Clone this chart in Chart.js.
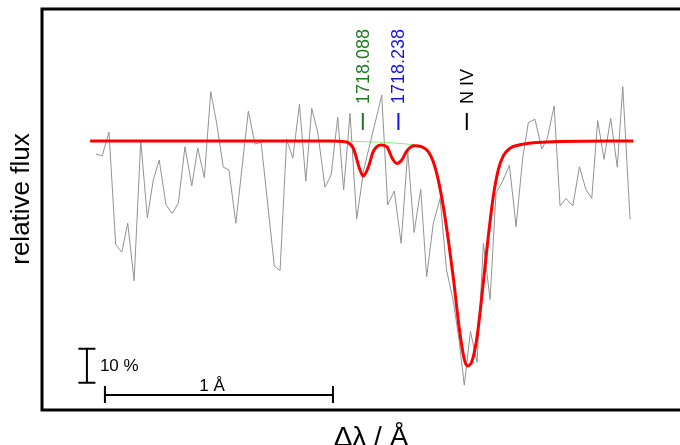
<!DOCTYPE html>
<html>
<head>
<meta charset="utf-8">
<script src="https://cdn.jsdelivr.net/npm/chart.js@4/dist/chart.umd.min.js"></script>
<style>
  html, body { margin: 0; padding: 0; background: #fff; overflow: hidden; }
  #wrap { width: 680px; height: 445px; position: relative; }
</style>
</head>
<body>
<div id="wrap"><canvas id="c" width="680" height="445"></canvas></div>
<script>
// ---- Observed spectrum (Δλ in Å from left frame edge, relative flux) ----
const obsWave = [0.237,0.264,0.294,0.323,0.350,0.376,0.404,0.433,0.462,0.488,0.514,0.544,0.571,0.598,0.627,0.657,0.683,0.712,0.740,0.766,0.795,0.820,0.850,0.905,0.934,0.961,1.019,1.044,1.073,1.100,1.129,1.157,1.183,1.209,1.241,1.268,1.297,1.323,1.351,1.380,1.412,1.434,1.463,1.490,1.516,1.545,1.575,1.604,1.632,1.661,1.687,1.716,1.746,1.774,1.803,1.829,1.852,1.879,1.908,1.936,1.965,1.991,2.021,2.050,2.079,2.108,2.133,2.162,2.192,2.216,2.246,2.272,2.298,2.328,2.357,2.385,2.411,2.437,2.465,2.494,2.523,2.547,2.579];
const obsFlux = [0.962,0.956,1.026,0.696,0.673,0.758,0.589,1.001,0.774,0.885,0.944,0.812,0.787,0.817,0.983,0.868,0.979,0.892,1.145,1.052,0.923,0.915,0.758,1.088,0.991,0.996,0.632,0.619,1.005,0.949,1.108,0.882,1.096,1.027,0.864,0.900,1.070,0.856,1.081,0.771,0.918,0.979,1.059,1.135,0.812,0.853,0.699,0.969,0.731,0.858,0.601,0.758,0.831,0.621,0.532,0.415,0.282,0.440,0.349,0.699,0.534,0.846,0.883,0.929,0.748,0.949,1.054,1.064,0.976,1.008,1.103,0.809,0.831,0.809,0.924,0.858,0.831,1.060,0.946,1.067,0.923,1.160,0.770];

// ---- Model spectrum (red) ----
const modelWave = [0.211,1.263,1.329,1.365,1.392,1.409,1.431,1.453,1.486,1.512,1.536,1.556,1.578,1.600,1.632,1.665,1.694,1.716,1.738,1.760,1.782,1.804,1.830,1.851,1.865,1.885,1.907,1.928,1.950,1.979,2.001,2.023,2.053,2.096,2.155,2.243,2.594];
const modelFlux = [1.000,1.000,0.998,0.979,0.920,0.897,0.923,0.969,0.988,0.983,0.949,0.934,0.944,0.971,0.986,0.983,0.969,0.939,0.885,0.807,0.709,0.597,0.449,0.361,0.339,0.351,0.420,0.537,0.676,0.836,0.915,0.956,0.979,0.989,0.995,0.998,1.000];

// ---- Model without the two weak lines (green) ----
const contWave = [1.329,1.453,1.548,1.643];
const contFlux = [1.000,0.997,0.994,0.988];

// ---- Line identifications ----
const idLabels = ['1718.088','1718.238','N IV'];
const idWave = [1.407,1.563,1.863];
const idColors = ['#1f7a1f','#1010f0','#000000'];

// ---- Scale bars ----
const angstromBar = [0.276, 1.276];   // 1 Å
const angstromBarFlux = 0.253;
const percentBar = [0.289, 0.389];    // 10 %
const percentBarWave = 0.197;

const toXY = (xs, ys) => xs.map((x, i) => ({x: x, y: ys[i]}));
const FONT = '"Liberation Sans", Arial, Helvetica, sans-serif';

const decorPlugin = {
  id: 'decor',
  afterDatasetsDraw(chart) {
    const ctx = chart.ctx, a = chart.chartArea;
    const xs = chart.scales.x, ys = chart.scales.y;
    ctx.save();
    // frame (left, top, bottom)
    ctx.strokeStyle = '#000';
    ctx.lineWidth = 3;
    ctx.beginPath();
    ctx.moveTo(a.right + 5, a.top);
    ctx.lineTo(a.left, a.top);
    ctx.lineTo(a.left, a.bottom);
    ctx.lineTo(a.right + 5, a.bottom);
    ctx.stroke();

    // line identifications
    const cont = ys.getPixelForValue(1.0);
    idLabels.forEach((lab, i) => {
      const px = xs.getPixelForValue(idWave[i]);
      ctx.strokeStyle = idColors[i];
      ctx.fillStyle = idColors[i];
      ctx.lineWidth = 2;
      ctx.beginPath();
      ctx.moveTo(px, cont - 28);
      ctx.lineTo(px, cont - 11);
      ctx.stroke();
      ctx.save();
      ctx.translate(px + 1, cont - 37);
      ctx.rotate(-Math.PI / 2);
      ctx.font = '18px ' + FONT;
      ctx.textAlign = 'left';
      ctx.textBaseline = 'middle';
      ctx.fillText(lab, 0, 0);
      ctx.restore();
    });

    // 10 % bar
    ctx.strokeStyle = '#000';
    ctx.fillStyle = '#000';
    ctx.lineWidth = 2;
    const vx = xs.getPixelForValue(percentBarWave);
    const vy0 = ys.getPixelForValue(percentBar[0]);
    const vy1 = ys.getPixelForValue(percentBar[1]);
    ctx.beginPath();
    ctx.moveTo(vx, vy0); ctx.lineTo(vx, vy1);
    ctx.moveTo(vx - 8.5, vy0); ctx.lineTo(vx + 8.5, vy0);
    ctx.moveTo(vx - 8.5, vy1); ctx.lineTo(vx + 8.5, vy1);
    ctx.stroke();
    ctx.font = '17px ' + FONT;
    ctx.textAlign = 'left';
    ctx.textBaseline = 'middle';
    ctx.fillText('10 %', vx + 13, (vy0 + vy1) / 2 + 1);

    // 1 Å bar
    const hx0 = xs.getPixelForValue(angstromBar[0]);
    const hx1 = xs.getPixelForValue(angstromBar[1]);
    const hy = ys.getPixelForValue(angstromBarFlux);
    ctx.beginPath();
    ctx.moveTo(hx0, hy); ctx.lineTo(hx1, hy);
    ctx.moveTo(hx0, hy - 9); ctx.lineTo(hx0, hy + 8);
    ctx.moveTo(hx1, hy - 9); ctx.lineTo(hx1, hy + 8);
    ctx.stroke();
    ctx.textAlign = 'center';
    ctx.textBaseline = 'alphabetic';
    ctx.fillText('1 Å', hx0 + (hx1 - hx0) * 0.47, hy - 4);

    // axis titles
    ctx.textAlign = 'center';
    ctx.textBaseline = 'alphabetic';
    ctx.font = '28px ' + FONT;
    ctx.fillText('Δλ / Å', 371, 446);
    ctx.font = '26px ' + FONT;
    ctx.save();
    ctx.translate(29, 199);
    ctx.rotate(-Math.PI / 2);
    ctx.fillText('relative flux', 0, 0);
    ctx.restore();

    ctx.restore();
  }
};

new Chart(document.getElementById('c'), {
  type: 'scatter',
  data: {
    datasets: [
      {
        data: toXY(obsWave, obsFlux),
        showLine: true,
        borderColor: '#929292',
        borderWidth: 1,
        pointRadius: 0,
        tension: 0,
        order: 3
      },
      {
        data: toXY(contWave, contFlux),
        showLine: true,
        borderColor: '#7fef7f',
        borderWidth: 1,
        pointRadius: 0,
        tension: 0.3,
        order: 2
      },
      {
        data: toXY(modelWave, modelFlux),
        showLine: true,
        borderColor: '#ff0000',
        borderWidth: 3,
        pointRadius: 0,
        cubicInterpolationMode: 'monotone',
        order: 1
      }
    ]
  },
  options: {
    responsive: false,
    animation: false,
    devicePixelRatio: 1,
    layout: { padding: { left: 42, top: 9, right: 0, bottom: 35 } },
    plugins: { legend: { display: false }, tooltip: { enabled: false } },
    scales: {
      x: { type: 'linear', min: 0, max: 2.798, display: false },
      y: { type: 'linear', min: 0.209, max: 1.388, display: false }
    }
  },
  plugins: [decorPlugin]
});
</script>
</body>
</html>
